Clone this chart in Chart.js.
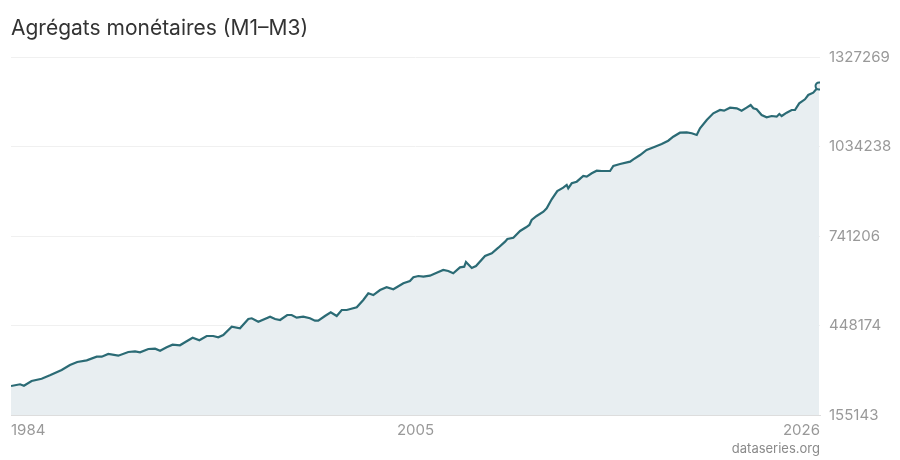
<!DOCTYPE html>
<html>
<head>
<meta charset="utf-8">
<script src="https://cdn.jsdelivr.net/npm/chart.js@4.4.1/dist/chart.umd.min.js"></script>
<style>
  html, body { margin: 0; padding: 0; background: #fff; }
  #wrap { width: 900px; height: 460px; position: relative; }
</style>
</head>
<body>
<div id="wrap"><canvas id="c"></canvas></div>
<script>
// values (decimal year, level)
var years = [
  1984.00, 1984.47, 1984.67, 1985.07, 1985.59, 1986.02, 1986.63, 1987.06, 1987.44, 1987.93,
  1988.45, 1988.71, 1989.05, 1989.57, 1990.09, 1990.44, 1990.70, 1991.13, 1991.48, 1991.74,
  1992.08, 1992.39, 1992.77, 1993.12, 1993.43, 1993.78, 1994.16, 1994.50, 1994.76, 1995.02,
  1995.46, 1995.89, 1996.32, 1996.50, 1996.84, 1997.45, 1997.71, 1997.97, 1998.34, 1998.57,
  1998.83, 1999.17, 1999.52, 1999.78, 1999.95, 2000.30, 2000.60, 2000.91, 2001.17, 2001.43,
  2001.95, 2002.29, 2002.55, 2002.81, 2003.16, 2003.50, 2003.85, 2004.37, 2004.71, 2004.89,
  2005.15, 2005.41, 2005.75, 2006.10, 2006.44, 2006.70, 2006.96, 2007.31, 2007.53, 2007.62,
  2007.92, 2008.14, 2008.61, 2008.96, 2009.30, 2009.65, 2009.77, 2010.08, 2010.43, 2010.74,
  2010.91, 2011.03, 2011.29, 2011.64, 2011.81, 2012.07, 2012.36, 2012.67, 2012.85, 2012.93,
  2013.11, 2013.37, 2013.71, 2013.89, 2014.15, 2014.41, 2014.67, 2015.10, 2015.27, 2015.62,
  2016.14, 2016.31, 2016.66, 2017.00, 2017.43, 2017.78, 2018.12, 2018.38, 2018.73, 2019.08,
  2019.34, 2019.60, 2019.77, 2020.12, 2020.46, 2020.81, 2021.02, 2021.33, 2021.68, 2021.93,
  2022.19, 2022.40, 2022.54, 2022.71, 2022.97, 2023.23, 2023.49, 2023.75, 2023.89, 2024.01,
  2024.27, 2024.53, 2024.70, 2024.92, 2025.22, 2025.39, 2025.65, 2025.95
];
var values = [
  250100, 255700, 251100, 266500, 274000, 285100, 302500, 318900, 328700, 334200,
  346000, 346000, 354900, 349300, 361400, 363700, 360400, 371200, 372200, 365700,
  376800, 385300, 383400, 396400, 408200, 399700, 413800, 413800, 409500, 417100,
  444300, 439000, 469500, 471800, 460600, 477000, 469500, 466200, 482600, 482600,
  473700, 477000, 471800, 463900, 463900, 479300, 491400, 479300, 498900, 498900,
  507800, 531700, 553600, 548000, 564400, 573300, 566700, 586300, 593900, 606000,
  610200, 608000, 611200, 621100, 629900, 626600, 619100, 638700, 640700, 656100,
  636400, 643000, 675700, 684600, 702900, 722600, 731400, 735600, 757600, 769700,
  777200, 793600, 806700, 820800, 831900, 861400, 888500, 899400, 908200, 897400,
  913800, 919000, 937700, 935400, 946500, 955000, 954000, 954000, 970400, 976900,
  984500, 992300, 1006400, 1022800, 1033600, 1042400, 1053200, 1066300, 1079400, 1080700,
  1077500, 1071900, 1093800, 1121000, 1142900, 1153700, 1151500, 1161300, 1159300, 1151500,
  1161300, 1170100, 1159300, 1156000, 1137400, 1129800, 1134100, 1131800, 1140700, 1134100,
  1144900, 1153700, 1153700, 1175700, 1188800, 1202900, 1210400, 1232300
];
var xTicks = [1984, 2005, 2026];
var yTicks = [155143, 448174, 741206, 1034238, 1327269];

var title = 'Agrégats monétaires (M1–M3)';
var source = 'dataseries.org';

var points = years.map(function(t, i){ return {x: t, y: values[i]}; });
var lastIdx = points.length - 1;

var lineColor = '#2b6b75';
var fillColor = '#e8eef1';

var textPlugin = {
  id: 'texts',
  afterDraw: function(chart){
    var ctx = chart.ctx;
    ctx.save();
    ctx.fillStyle = '#333';
    ctx.font = '21px Inter';
    ctx.textAlign = 'left';
    ctx.textBaseline = 'middle';
    ctx.fillText(title, 11, 29);
    ctx.fillStyle = '#8a8a8a';
    ctx.font = '13px Inter';
    ctx.textAlign = 'right';
    ctx.fillText(source, chart.chartArea.right, 449);
    ctx.restore();
  }
};

new Chart(document.getElementById('c'), {
  type: 'line',
  data: {
    datasets: [{
      data: points,
      borderColor: lineColor,
      backgroundColor: fillColor,
      borderWidth: 2.2,
      fill: 'start',
      tension: 0,
      pointRadius: function(c){ return c.dataIndex === lastIdx ? 3.5 : 0; },
      pointBackgroundColor: fillColor,
      pointBorderColor: lineColor,
      pointBorderWidth: 2
    }]
  },
  options: {
    responsive: true,
    maintainAspectRatio: false,
    animation: false,
    layout: { padding: { left: 11, top: 57, right: 0, bottom: 0 } },
    plugins: {
      legend: { display: false },
      tooltip: { enabled: false }
    },
    scales: {
      x: {
        type: 'linear',
        min: 1984,
        max: 2026,
        afterBuildTicks: function(s){ s.ticks = xTicks.map(function(v){ return {value: v}; }); },
        afterFit: function(s){ s.height = 45; },
        grid: { display: false, drawTicks: false },
        border: { display: true, color: '#dddddd', width: 1 },
        ticks: {
          align: 'inner',
          maxRotation: 0,
          padding: 6,
          color: '#999',
          font: { family: 'Inter', size: 15 },
          callback: function(v){ return String(v); }
        }
      },
      y: {
        position: 'right',
        min: 155143,
        max: 1327269,
        afterBuildTicks: function(s){ s.ticks = yTicks.map(function(v){ return {value: v}; }); },
        afterFit: function(s){ s.width = 80; },
        grid: { color: '#f0f0f0', drawTicks: false },
        border: { display: false },
        ticks: {
          padding: 9,
          color: '#999',
          font: { family: 'Inter', size: 15 },
          callback: function(v){ return String(v); }
        }
      }
    }
  },
  plugins: [textPlugin]
});
</script>
</body>
</html>
